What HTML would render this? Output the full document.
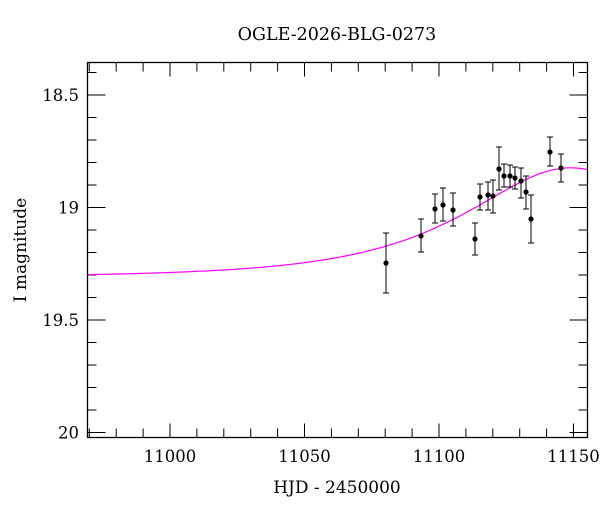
<!DOCTYPE html>
<html><head><meta charset="utf-8"><style>
body{margin:0;background:#fff}
svg{display:block;font-family:"DejaVu Serif","Liberation Serif",serif}
</style></head><body>
<svg id="s" width="600" height="512" viewBox="0 0 600 512" xmlns="http://www.w3.org/2000/svg">
<rect width="600" height="512" fill="#fff"/>
<text x="337" y="40" font-size="17.5" text-anchor="middle">OGLE-2026-BLG-0273</text>
<text x="337" y="493" font-size="17" text-anchor="middle">HJD - 2450000</text>
<text transform="translate(26,250) rotate(-90)" font-size="17" text-anchor="middle">I magnitude</text>
<g id="ticks" stroke="#000" stroke-width="1"></g>
<g id="labels" font-size="16.5"></g>
<polyline id="curve" fill="none" stroke="#ff00ff" stroke-width="1.2"/>
<g id="pts"></g>
<rect x="87.5" y="62.5" width="500" height="375" fill="none" stroke="#000" stroke-width="1.3"/>
</svg>
<script>
var L=87.5,R=587.5,T=62.5,B=437.5;
function X(t){return 170+(t-11000)*2.69;}
function Y(m){return 95+(m-18.5)*225;}
var tk=document.getElementById('ticks'),lb=document.getElementById('labels'),h='',l='';
for(var t=10970;t<=11150;t+=10){var x=X(t),big=(t%50==0)?14:9;
h+='<line x1="'+x+'" y1="'+B+'" x2="'+x+'" y2="'+(B-big)+'"/><line x1="'+x+'" y1="'+T+'" x2="'+x+'" y2="'+(T+big)+'"/>';
if(t%50==0)l+='<text x="'+x+'" y="462" text-anchor="middle">'+t+'</text>';}
for(var i=4;i<=20;i++){var m=18.0+i*0.1,y=Y(m);if(y<T||y>B)continue;var big=(i%5==0)?18:9;
h+='<line x1="'+L+'" y1="'+y+'" x2="'+(L+big)+'" y2="'+y+'"/><line x1="'+R+'" y1="'+y+'" x2="'+(R-big)+'" y2="'+y+'"/>';
if(i%5==0){var s=(Math.round(m*10)/10).toString();l+='<text x="79" y="'+(y+6)+'" text-anchor="end">'+s+'</text>';}}
tk.innerHTML=h;lb.innerHTML=l;
var pts=[];for(var x=L;x<=R;x+=2){var t=11000+(x-170)/2.69;var tau=(t-11149)/54,u=Math.sqrt(0.6+tau*tau);
var A=(u*u+2)/(u*Math.sqrt(u*u+4));var m=19.31-2.5*Math.log10(A);pts.push(x.toFixed(1)+','+Y(m).toFixed(1));}
document.getElementById('curve').setAttribute('points',pts.join(' '));
var d=[[386,263,233,293],[421,236,219,252],[435,209,194,223],[443,205,188,221],[453,210,193,226],[475,239,223,255],[480,197,184,210],[488,195,182,210],[493,196,180,213],[499,169,147,190],[504,176,164,187],[510,176,165,187],[515,178,167,189],[521,181,168,198],[526,192,176,209],[531,219,195,243],[550,152,137,166],[561,168,154,182]];
var p='';d.forEach(function(a){p+='<line x1="'+a[0]+'" y1="'+a[2]+'" x2="'+a[0]+'" y2="'+a[3]+'" stroke="#000"/><line x1="'+(a[0]-3)+'" y1="'+a[2]+'" x2="'+(a[0]+3)+'" y2="'+a[2]+'" stroke="#000"/><line x1="'+(a[0]-3)+'" y1="'+a[3]+'" x2="'+(a[0]+3)+'" y2="'+a[3]+'" stroke="#000"/><circle cx="'+a[0]+'" cy="'+a[1]+'" r="2.6" fill="#000"/>';});
document.getElementById('pts').innerHTML=p;
</script>
</body></html>
